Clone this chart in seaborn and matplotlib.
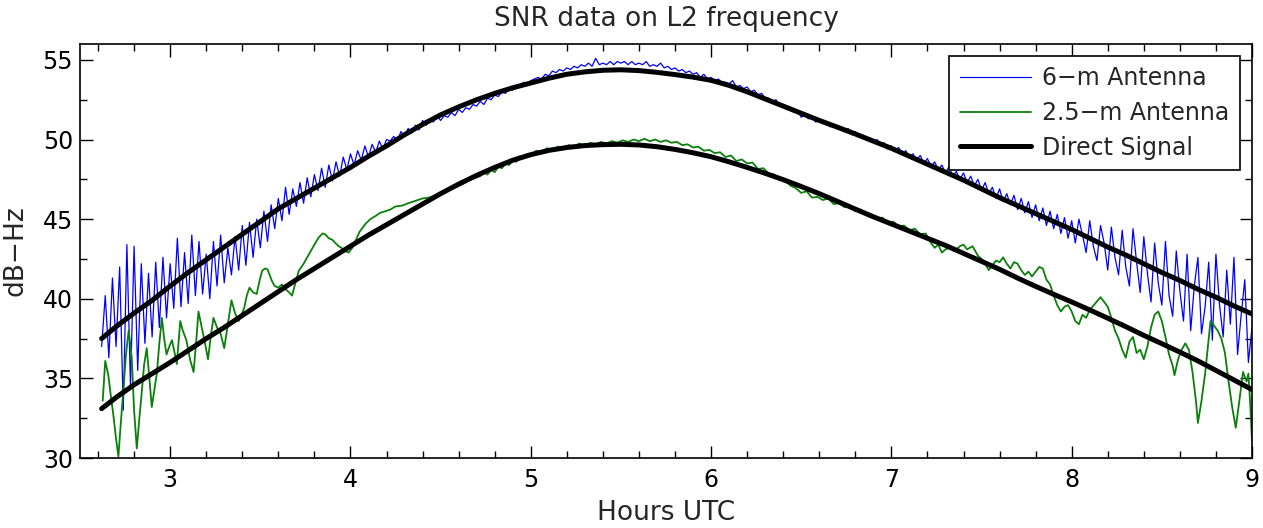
import numpy as np
import matplotlib
matplotlib.use("Agg")
import matplotlib.pyplot as plt
import seaborn as sns
from matplotlib.ticker import MultipleLocator

# ---------------- data ----------------
# direct signal (smooth model curves)
direct_hours = [2.62, 2.7, 2.8, 2.9, 3.0, 3.1, 3.2, 3.3, 3.4, 3.5, 3.6, 3.7, 3.8, 3.9,
                4.0, 4.1, 4.2, 4.3, 4.4, 4.5, 4.6, 4.7, 4.8, 4.9, 5.0, 5.1, 5.2, 5.3,
                5.4, 5.5, 5.6, 5.7, 5.8, 5.9, 6.0, 6.1, 6.2, 6.3, 6.4, 6.5, 6.6, 6.7,
                6.8, 6.9, 7.0, 7.1, 7.2, 7.3, 7.4, 7.5, 7.6, 7.7, 7.8, 7.9, 8.0, 8.1,
                8.2, 8.3, 8.4, 8.5, 8.6, 8.7, 8.8, 8.9, 9.0]
direct_6m = [37.5, 38.25, 39.1, 39.9, 40.8, 41.65, 42.45, 43.25, 44.05, 44.85,
             45.65, 46.3, 46.95, 47.6, 48.25, 48.95, 49.6, 50.3, 50.95, 51.55,
             52.05, 52.5, 52.9, 53.25, 53.55, 53.85, 54.1, 54.25, 54.35, 54.38,
             54.33, 54.22, 54.08, 53.92, 53.72, 53.4, 53.0, 52.55, 52.1, 51.65,
             51.2, 50.78, 50.35, 49.9, 49.45, 48.95, 48.45, 47.95, 47.45, 46.9,
             46.35, 45.85, 45.35, 44.85, 44.35, 43.8, 43.25, 42.75, 42.2, 41.65,
             41.15, 40.6, 40.1, 39.55, 39.05]
direct_25m = [33.1, 33.8, 34.6, 35.3, 36.0, 36.75, 37.5, 38.2, 38.95, 39.7,
              40.45, 41.2, 41.9, 42.6, 43.3, 44.0, 44.65, 45.3, 45.95, 46.6,
              47.2, 47.75, 48.25, 48.7, 49.05, 49.32, 49.5, 49.62, 49.68, 49.7,
              49.66, 49.55, 49.38, 49.17, 48.92, 48.6, 48.25, 47.88, 47.48, 47.05,
              46.6, 46.12, 45.63, 45.15, 44.7, 44.25, 43.8, 43.35, 42.85, 42.35,
              41.85, 41.3, 40.78, 40.28, 39.8, 39.3, 38.78, 38.25, 37.7, 37.18,
              36.65, 36.1, 35.5, 34.9, 34.3]

# 6-m antenna SNR, sampled every 0.02 h starting at 2.62 h
snr_6m_start = 2.62
snr_6m_step = 0.02
snr_6m = [
    # 2.62 - 3.00
    37.0, 40.2, 36.3, 41.3, 37.0, 42.0, 33.0, 43.4, 34.5, 43.3,
    35.5, 42.2, 37.2, 41.6, 37.6, 42.3, 38.2, 42.6, 38.8, 42.2,
    # 3.02 - 3.60
    39.4, 43.8, 39.5, 42.9, 39.7, 44.0, 40.2, 43.6, 40.3, 42.8,
    40.0, 43.6, 40.8, 44.0, 41.0, 43.2, 41.5, 43.9, 41.8, 44.6,
    42.1, 44.8, 42.6, 45.0, 43.2, 45.5, 43.6, 45.9, 44.4, 46.3,
    # 3.62 - 4.20
    44.9, 47.0, 45.3, 46.9, 45.8, 47.3, 46.0, 47.6, 46.4, 47.8,
    46.8, 48.2, 47.0, 48.4, 47.4, 48.6, 47.7, 48.9, 48.1, 49.1,
    48.4, 49.3, 48.7, 49.6, 48.9, 49.7, 49.2, 49.9, 49.4, 50.0,
    # 4.22 - 5.00
    49.9, 50.2, 49.9, 50.5, 50.2, 50.7, 50.4, 50.9, 50.6, 51.2,
    50.9, 51.3, 51.1, 51.5, 51.2, 51.5, 51.4, 51.7, 51.5, 51.9,
    51.7, 52.0, 51.9, 52.2, 52.1, 52.4, 52.2, 52.6, 52.5, 52.8,
    52.7, 53.0, 52.9, 53.2, 53.1, 53.4, 53.3, 53.6, 53.5, 53.7,
    # 5.02 - 6.00
    53.8, 53.9, 53.8, 54.1, 54.0, 54.3, 54.2, 54.4, 54.3, 54.5,
    54.4, 54.6, 54.5, 54.7, 54.6, 54.8, 54.6, 55.1, 54.7, 54.8,
    54.7, 54.9, 54.7, 54.9, 54.8, 54.9, 54.7, 54.9, 54.7, 54.8,
    54.7, 54.9, 54.6, 54.7, 54.6, 54.8, 54.5, 54.6, 54.4, 54.5,
    54.3, 54.4, 54.2, 54.3, 54.1, 54.2, 53.9, 54.1, 53.8, 53.9,
    # 6.02 - 7.00
    53.7, 53.8, 53.6, 53.6, 53.5, 53.7, 53.3, 53.4, 53.2, 53.3,
    53.0, 53.1, 52.8, 52.9, 52.6, 52.6, 52.4, 52.5, 52.1, 52.2,
    51.9, 52.0, 51.7, 51.8, 51.4, 51.6, 51.3, 51.4, 51.1, 51.2,
    51.0, 51.1, 50.8, 50.9, 50.7, 50.8, 50.5, 50.7, 50.3, 50.5,
    50.2, 50.3, 50.0, 50.1, 49.8, 50.0, 49.6, 49.8, 49.4, 49.6,
    # 7.02 - 8.00
    49.3, 49.5, 49.1, 49.3, 48.9, 49.1, 48.7, 49.0, 48.5, 48.8,
    48.3, 48.6, 48.1, 48.4, 47.9, 48.3, 47.7, 48.0, 47.5, 47.9,
    47.3, 47.7, 47.1, 47.5, 46.8, 47.3, 46.6, 47.0, 46.3, 46.9,
    46.1, 46.6, 45.9, 46.5, 45.6, 46.3, 45.4, 46.1, 45.1, 45.9,
    44.9, 45.7, 44.6, 45.5, 44.4, 45.3, 44.1, 45.1, 43.8, 44.9,
    # 8.02 - 9.00
    43.5, 45.0, 44.0, 42.9, 44.9, 43.3, 42.4, 44.6, 43.5, 41.8,
    44.5, 42.6, 41.5, 44.3, 42.0, 40.8, 44.4, 42.3, 40.4, 43.9,
    41.6, 39.8, 43.5, 41.0, 39.6, 43.6, 40.2, 38.9, 43.0, 40.5,
    38.6, 42.8, 38.0, 40.8, 42.6, 37.8, 39.5, 42.3, 37.4, 42.8,
    39.6, 37.6, 41.8, 38.4, 42.6, 36.5, 39.0, 41.2, 36.0, 38.2,
]

# 2.5-m antenna SNR (hours, dB-Hz)
snr_25m_hours = [
    2.626, 2.64, 2.657, 2.67, 2.685, 2.70, 2.713, 2.725, 2.74, 2.755,
    2.77, 2.787, 2.80, 2.815, 2.83, 2.843, 2.855, 2.87, 2.885, 2.898,
    2.91, 2.926, 2.94, 2.954, 2.968, 2.98, 2.995, 3.01, 3.025, 3.037,
    3.047, 3.056, 3.07, 3.09, 3.11, 3.13, 3.145, 3.157, 3.175, 3.19,
    3.21, 3.225, 3.24, 3.26, 3.28, 3.30, 3.32, 3.34, 3.36, 3.38,
    3.395, 3.41, 3.425, 3.44, 3.46, 3.48, 3.495, 3.51, 3.525, 3.54,
    3.555, 3.565, 3.58, 3.60,
    3.62, 3.64, 3.66, 3.676, 3.69, 3.713, 3.74, 3.77, 3.80, 3.824,
    3.845, 3.86, 3.88, 3.90, 3.916, 3.935, 3.95, 3.97, 3.99, 4.01,
    4.027, 4.05, 4.083, 4.11, 4.139, 4.165, 4.194, 4.22, 4.25, 4.287,
    4.32, 4.36, 4.40, 4.435, 4.47, 4.509, 4.545, 4.583, 4.62, 4.66, 4.694,
    4.72, 4.74, 4.76, 4.78, 4.80, 4.82, 4.84, 4.86, 4.88, 4.90,
    4.92, 4.94, 4.96, 4.98, 5.00, 5.03, 5.06, 5.09, 5.12, 5.15,
    5.18, 5.21, 5.24, 5.27, 5.30, 5.33, 5.36, 5.39, 5.42, 5.45,
    5.48, 5.51, 5.54, 5.57, 5.60, 5.63, 5.66, 5.69, 5.72, 5.75,
    5.78, 5.81, 5.84, 5.87, 5.90, 5.93, 5.96, 5.99, 6.02, 6.05,
    6.08, 6.11, 6.14, 6.17, 6.20, 6.23, 6.26, 6.29, 6.32, 6.35,
    6.38, 6.41, 6.44, 6.47, 6.50, 6.53, 6.56, 6.59, 6.62, 6.65,
    6.68, 6.71, 6.74, 6.77, 6.80, 6.83, 6.86, 6.89, 6.92, 6.95,
    6.98, 7.01, 7.04, 7.07, 7.10, 7.13, 7.16, 7.19,
    7.22, 7.24, 7.26, 7.28, 7.30, 7.32, 7.35, 7.38, 7.40, 7.42,
    7.45, 7.48, 7.50, 7.52, 7.54, 7.56, 7.58, 7.60, 7.62, 7.64,
    7.66, 7.68, 7.70, 7.72, 7.74, 7.76, 7.78, 7.80, 7.82, 7.84,
    7.86, 7.88, 7.90, 7.92, 7.94, 7.96,
    7.98, 8.00, 8.02, 8.04, 8.06, 8.08, 8.10, 8.13, 8.16, 8.18,
    8.20, 8.22, 8.24, 8.26, 8.28, 8.30, 8.32, 8.34, 8.36, 8.38,
    8.40, 8.42, 8.44, 8.46, 8.48, 8.50, 8.52, 8.54, 8.56, 8.57,
    8.59, 8.61, 8.63, 8.65, 8.67, 8.69, 8.70, 8.72, 8.74, 8.76,
    8.77, 8.79, 8.81, 8.83, 8.85, 8.87, 8.89, 8.91, 8.93, 8.95,
    8.97, 8.98, 8.99, 9.00,
]
snr_25m = [
    33.6, 36.1, 35.2, 34.0, 32.7, 31.2, 30.1, 32.0, 34.2, 36.5,
    38.0, 36.3, 33.0, 30.6, 32.6, 34.2, 35.8, 36.9, 35.0, 33.2,
    34.1, 35.3, 37.2, 38.8, 37.4, 36.5, 37.0, 37.4, 36.6, 35.9,
    37.3, 38.6, 38.0, 37.4, 36.2, 35.4, 37.4, 39.2, 38.2, 37.4,
    36.2, 37.6, 38.8, 38.2, 37.8, 36.9, 38.4, 39.9, 39.1, 38.6,
    39.0, 39.4, 40.2, 40.7, 40.4, 40.3, 41.1, 41.75, 41.9, 41.85,
    41.4, 41.1, 40.8, 40.7,
    40.9, 40.6, 40.4, 40.2, 40.8, 41.75, 42.2, 42.8, 43.4, 43.85,
    44.1, 44.05, 43.8, 43.7, 43.5, 43.3, 43.2, 43.0, 42.9, 43.2,
    43.6, 44.2, 44.7, 45.0, 45.2, 45.4, 45.5, 45.6, 45.8, 45.85,
    46.0, 46.15, 46.3, 46.35, 46.5, 46.7, 46.85, 47.0, 47.2, 47.45, 47.6,
    47.7, 47.95, 47.8, 48.1, 47.95, 48.3, 48.2, 48.5, 48.4, 48.7,
    48.6, 48.95, 48.85, 49.1, 49.0, 49.3, 49.2, 49.45, 49.35, 49.55,
    49.45, 49.65, 49.55, 49.75, 49.6, 49.8, 49.7, 49.85, 49.75, 49.9,
    49.8, 49.95, 49.85, 50.0, 49.9, 50.05, 49.9, 50.0, 49.85, 49.95,
    49.8, 49.85, 49.65, 49.7, 49.5, 49.55, 49.3, 49.35, 49.15, 49.2,
    48.9, 49.0, 48.65, 48.75, 48.5, 48.55, 48.15, 48.2, 47.85, 47.8,
    47.55, 47.45, 47.1, 46.95, 46.65, 46.75, 46.35, 46.4, 46.2, 46.3,
    45.95, 46.0, 45.75, 45.85, 45.5, 45.6, 45.25, 45.3, 45.0, 45.1,
    44.75, 44.85, 44.55, 44.6, 44.3, 44.4, 44.05, 44.1,
    43.5, 43.2, 43.4, 42.9, 43.1, 43.2, 43.0, 43.3, 43.4, 43.1,
    43.3, 42.7, 42.5, 42.2, 41.8, 42.1, 42.4, 42.3, 42.6, 42.2,
    41.9, 42.3, 42.2, 41.8, 41.5, 41.7, 41.4, 41.7, 42.0, 41.9,
    41.2, 40.9, 40.2, 39.6, 39.2, 39.5,
    39.6, 39.2, 38.6, 38.4, 39.0, 38.8, 39.3, 39.7, 40.1, 39.8,
    39.5, 38.8, 38.0, 37.5, 36.8, 36.3, 37.3, 37.6, 36.6, 36.8,
    36.2, 37.0, 38.2, 39.0, 39.2, 38.6, 37.6, 36.5, 35.8, 35.2,
    36.2, 36.8, 37.2, 36.8, 35.4, 33.5, 32.2, 33.6, 35.3, 37.5,
    38.6, 38.3, 38.0, 37.5, 36.6, 34.8, 33.2, 31.9, 33.6, 35.4,
    34.8, 35.3, 33.4, 31.1,
]

series_labels = ["6\u2212m Antenna", "2.5\u2212m Antenna", "Direct Signal"]

# ---------------- figure ----------------
sns.set_style("ticks")
plt.rcParams["font.family"] = ["DejaVu Sans"]
plt.rcParams.update({
    "axes.edgecolor": "black",
    "xtick.direction": "in", "ytick.direction": "in",
    "xtick.top": True, "ytick.right": True,
    "xtick.color": "black", "ytick.color": "black",
    "xtick.labelcolor": "black", "ytick.labelcolor": "black",
})

W, H = 1263, 528
fig = plt.figure(figsize=(W / 100, H / 100), dpi=100)
ax = fig.add_axes([80 / W, 70 / H, 1172 / W, 414 / H])

hours_6m = np.round(snr_6m_start + snr_6m_step * np.arange(len(snr_6m)), 3)
n25 = min(len(snr_25m_hours), len(snr_25m))

sns.lineplot(x=hours_6m, y=snr_6m, ax=ax, color="#0000ff", lw=0.9,
             label=series_labels[0], estimator=None, sort=False, zorder=2)
sns.lineplot(x=snr_25m_hours[:n25], y=snr_25m[:n25], ax=ax, color="#0a800a", lw=1.3,
             label=series_labels[1], estimator=None, sort=False, zorder=2)
sns.lineplot(x=direct_hours, y=direct_6m, ax=ax, color="black", lw=3.6,
             label=series_labels[2], estimator=None, sort=False, zorder=3)
sns.lineplot(x=direct_hours, y=direct_25m, ax=ax, color="black", lw=3.6,
             estimator=None, sort=False, zorder=3)

ax.set_xlim(2.5, 9.0)
ax.set_ylim(30, 56)
ax.xaxis.set_major_locator(MultipleLocator(1))
ax.xaxis.set_minor_locator(MultipleLocator(0.2))
ax.yaxis.set_major_locator(MultipleLocator(5))
ax.yaxis.set_minor_locator(MultipleLocator(2.5))
ax.tick_params(which="both", direction="in", top=True, right=True,
               bottom=True, left=True, width=1.0, color="black",
               labelcolor="black", labelsize=17)
ax.tick_params(which="major", length=9)
ax.tick_params(which="minor", length=5)
ax.tick_params(axis="x", which="major", pad=7)
ax.tick_params(axis="y", which="major", pad=5)
for s in ax.spines.values():
    s.set_linewidth(1.2)
    s.set_color("black")

ax.set_xlabel("Hours UTC", fontsize=19, labelpad=6)
ax.set_ylabel("dB\u2212Hz", fontsize=19, labelpad=10)
ax.set_title("SNR data on L2 frequency", fontsize=19, pad=13)

handles, labels = ax.get_legend_handles_labels()
leg = ax.legend(handles, labels, loc="upper right", fontsize=17, frameon=True,
                fancybox=False, framealpha=1, edgecolor="black",
                borderaxespad=0.5, handlelength=3.0, labelspacing=0.45,
                borderpad=0.45, handletextpad=0.5)
leg.get_frame().set_linewidth(1.2)

fig.savefig("out.png", dpi=100)
